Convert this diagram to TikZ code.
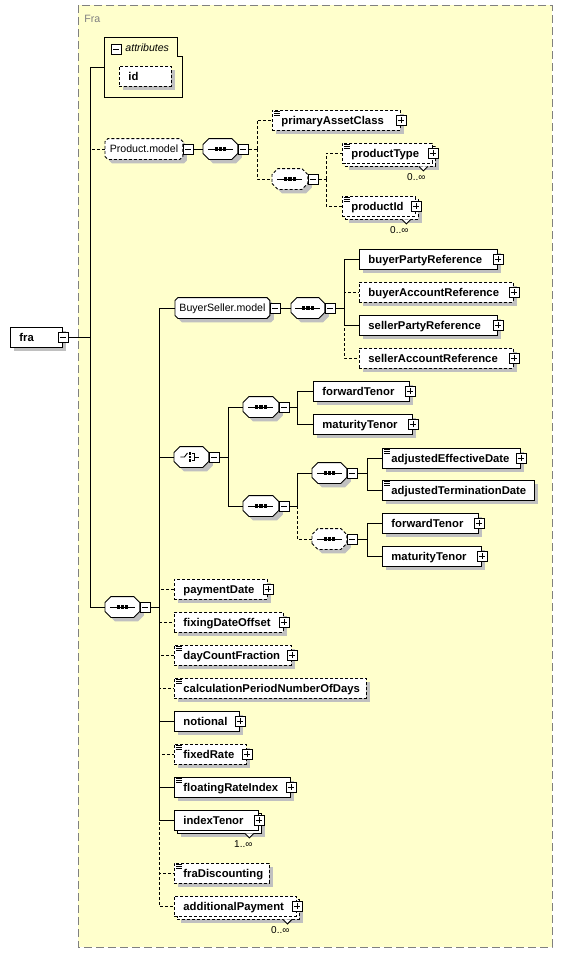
\documentclass[tikz,border=0pt]{standalone}
\usepackage{fontspec}
\setmainfont{Liberation Sans}
\usetikzlibrary{shadows,calc}

\definecolor{bgyellow}{HTML}{FFFFCC}
\definecolor{shadowgray}{HTML}{C0C0C0}
\definecolor{framegray}{HTML}{808080}

\newcommand{\elemfont}{\fontsize{11.3}{13}\selectfont\bfseries\hyphenpenalty=10000 }
\newcommand{\grpfont}{\fontsize{10.6}{13}\selectfont}
\newcommand{\occfont}{\fontsize{10}{12}\selectfont}

% box with cut corners for groups and compositors
\pgfkeys{/pgf/octo cut/.initial=6pt}
\makeatletter
\pgfdeclareshape{octo}{
  \inheritsavedanchors[from=rectangle]
  \inheritanchorborder[from=rectangle]
  \inheritanchor[from=rectangle]{center}
  \inheritanchor[from=rectangle]{north}
  \inheritanchor[from=rectangle]{south}
  \inheritanchor[from=rectangle]{east}
  \inheritanchor[from=rectangle]{west}
  \inheritanchor[from=rectangle]{north east}
  \inheritanchor[from=rectangle]{north west}
  \inheritanchor[from=rectangle]{south east}
  \inheritanchor[from=rectangle]{south west}
  \backgroundpath{%
    \pgfmathsetlength\pgf@xc{\pgfkeysvalueof{/pgf/octo cut}}%
    \southwest \pgf@xa=\pgf@x \pgf@ya=\pgf@y
    \northeast \pgf@xb=\pgf@x \pgf@yb=\pgf@y
    \pgfpathmoveto{\pgfqpoint{\pgf@xa}{\dimexpr\pgf@ya+\pgf@xc\relax}}%
    \pgfpathlineto{\pgfqpoint{\dimexpr\pgf@xa+\pgf@xc\relax}{\pgf@ya}}%
    \pgfpathlineto{\pgfqpoint{\dimexpr\pgf@xb-\pgf@xc\relax}{\pgf@ya}}%
    \pgfpathlineto{\pgfqpoint{\pgf@xb}{\dimexpr\pgf@ya+\pgf@xc\relax}}%
    \pgfpathlineto{\pgfqpoint{\pgf@xb}{\dimexpr\pgf@yb-\pgf@xc\relax}}%
    \pgfpathlineto{\pgfqpoint{\dimexpr\pgf@xb-\pgf@xc\relax}{\pgf@yb}}%
    \pgfpathlineto{\pgfqpoint{\dimexpr\pgf@xa+\pgf@xc\relax}{\pgf@yb}}%
    \pgfpathlineto{\pgfqpoint{\pgf@xa}{\dimexpr\pgf@yb-\pgf@xc\relax}}%
    \pgfpathclose
  }
}
\makeatother

\tikzset{
  opt/.style={dash pattern=on 3pt off 2pt},
  sh/.style={drop shadow={shadow xshift=4pt, shadow yshift=-4pt, fill=shadowgray, opacity=1}},
  elem/.style={draw, fill=white, anchor=west, minimum height=20pt, inner xsep=9pt, inner ysep=0pt,
    align=left, text height=10.4pt, text depth=1.8pt, font=\elemfont},
  smp/.style={path picture={
    \path (path picture bounding box.north west) coordinate (pc);
    \draw[solid, black, line width=0.5pt] ($(pc)+(2,1.5)$) -- +(5.5,0) ($(pc)+(2,3.5)$) -- +(5.5,0)
      ($(pc)+(2,5.5)$) -- +(5.5,0);}},
  minusbox/.style={draw, solid, fill=white, minimum size=10pt, inner sep=0pt, line width=0.8pt,
    general shadow={shadow xshift=1pt, shadow yshift=-1pt, fill=black},
    path picture={\draw[line width=0.8pt] ([xshift=2pt]path picture bounding box.west)
      -- ([xshift=-2pt]path picture bounding box.east);}},
  plusbox/.style={draw, solid, fill=white, minimum size=10pt, inner sep=0pt, line width=0.8pt,
    general shadow={shadow xshift=1pt, shadow yshift=-1pt, fill=black},
    path picture={\draw[line width=0.8pt] ([xshift=2pt]path picture bounding box.west)
      -- ([xshift=-2pt]path picture bounding box.east)
      ([yshift=2pt]path picture bounding box.south) -- ([yshift=-2pt]path picture bounding box.north);}},
  comp/.style={octo, octo cut=6pt, draw, fill=white, anchor=west,
    minimum width=34pt, minimum height=20pt, inner sep=0pt, sh},
  grp/.style={octo, octo cut=3pt, draw, fill=white, anchor=west, minimum height=20pt,
    inner xsep=4pt, inner ysep=0pt, text height=9.6pt, text depth=2pt, font=\grpfont, sh},
  seqicon/.style={path picture={
    \path (path picture bounding box.center) coordinate (pc);
    \draw[solid, black] ($(pc)+(-12.5,0)$) -- ($(pc)+(12.5,0)$);
    \foreach \d in {-4.2,0,4.2}
      \fill[black] ($(pc)+(\d,0)$) +(-1.6,-1.6) rectangle +(1.6,1.6);}},
  choiceicon/.style={path picture={
    \path (path picture bounding box.center) coordinate (pc);
    \draw[solid, black, line width=0.9pt] ($(pc)+(-11,0)$) -- ($(pc)+(-7,0)$) -- ($(pc)+(-4,-4)$);
    \foreach \d in {-3.6,0,3.6}
      \fill[black] ($(pc)+(-1.5,\d)$) +(-1.2,-1.2) rectangle +(1.2,1.2);
    \draw[solid, black, line width=0.9pt] ($(pc)+(0.5,-3.6)$) -- ($(pc)+(3,-3.6)$) -- ($(pc)+(3,3.6)$)
      -- ($(pc)+(0.5,3.6)$) ($(pc)+(3,0)$) -- ($(pc)+(8,0)$);}},
  occ/.style={anchor=east, inner sep=0pt, font=\occfont},
}

\begin{document}
\begin{tikzpicture}[x=1pt, y=-1pt, line width=0.9pt]
  \useasboundingbox (0,0) rectangle (563,954);
  % complex type frame
  \draw[framegray, fill=bgyellow, dash pattern=on 8pt off 4pt] (78,5) rectangle (552,947);
  \node[framegray, anchor=west, inner sep=0pt, font=\grpfont] (fraT) at (84,19) {Fra};

  % root
  \node[elem, sh, text width=34pt] (fra) at (10,337) {fra};
  \node[minusbox] (fram) at (fra.east) {};
  \coordinate (trunk) at (90,337);

  % attributes
  \node[minimum width=78pt, minimum height=59pt, inner sep=0pt] (attr) at (144,67.5) {};
  \draw (attr.north west) -- ++(73,0) -- ++(0,19) -- ++(5,0) |- (attr.south west) -- cycle;
  \node[minusbox] (attrm) at (116,49) {};
  \node[anchor=west, inner sep=0pt, font=\grpfont\itshape] (attrT) at (125,48) {attributes};
  \node[elem, opt, sh, text width=34pt] (id) at (119,76) {id};

  % Product.model
  \node[grp, opt, minimum width=77pt] (pm) at (105,149) {Product.model};
  \node[minusbox, anchor=west] (pmm) at (pm.east) {};
  \node[comp, seqicon] (s1) at (203,149) {};
  \node[minusbox, anchor=west] (s1m) at (s1.east) {};
  \coordinate (b1) at (257,149);
  \node[elem, opt, sh, smp, text width=110pt] (pac) at (272,120) {primaryAssetClass};
  \node[plusbox] (pacp) at (pac.east) {};
  \node[comp, opt, seqicon, minimum width=35pt] (s2) at (272,179) {};
  \node[minusbox, anchor=west] (s2m) at (s2.east) {};
  \coordinate (b2) at (326,179);
  \node[elem, opt, sh, text width=72pt] (ptb) at (345,156) {};
  \node[elem, opt, smp, text width=72pt] (pt) at (342,153) {productType};
  \node[plusbox] (ptp) at (pt.east) {};
  \draw[fill=white] ($(pt.south east)+(-14,3)$) -- ++(4.5,4.5) -- ++(4.5,-4.5);
  \node[occ] (pto) at ($(pt.south east)+(-7,14)$) {0..∞};
  \node[elem, opt, sh, text width=55pt] (pidb) at (345,209) {};
  \node[elem, opt, smp, text width=55pt] (pid) at (342,206) {productId};
  \node[plusbox] (pidp) at (pid.east) {};
  \draw[fill=white] ($(pid.south east)+(-14,3)$) -- ++(4.5,4.5) -- ++(4.5,-4.5);
  \node[occ] (pido) at ($(pid.south east)+(-7,14)$) {0..∞};

  % main sequence
  \node[comp, seqicon] (s0) at (105,607) {};
  \node[minusbox, anchor=west] (s0m) at (s0.east) {};
  \coordinate (b0) at (159,607);

  % BuyerSeller.model
  \node[grp, minimum width=94pt] (bsm) at (175,308) {BuyerSeller.model};
  \node[minusbox, anchor=west] (bsmm) at (bsm.east) {};
  \node[comp, seqicon, minimum width=33pt] (s3) at (291,308) {};
  \node[minusbox, anchor=west] (s3m) at (s3.east) {};
  \coordinate (b3) at (344,308);
  \node[elem, sh, text width=120pt] (bpr) at (359,259) {buyerPartyReference};
  \node[plusbox] (bprp) at (bpr.east) {};
  \node[elem, opt, sh, text width=136pt] (bar) at (359,292) {buyerAccountReference};
  \node[plusbox] (barp) at (bar.east) {};
  \node[elem, sh, text width=120pt] (spr) at (359,325) {sellerPartyReference};
  \node[plusbox] (sprp) at (spr.east) {};
  \node[elem, opt, sh, text width=136pt] (sar) at (359,358) {sellerAccountReference};
  \node[plusbox] (sarp) at (sar.east) {};

  % choice
  \node[comp, choiceicon] (ch) at (174,457) {};
  \node[minusbox, anchor=west] (chm) at (ch.east) {};
  \coordinate (b4) at (228,457);
  \node[comp, seqicon, minimum width=35pt] (s4) at (243,407) {};
  \node[minusbox, anchor=west] (s4m) at (s4.east) {};
  \coordinate (b5) at (297,407);
  \node[elem, sh, text width=78pt] (ft1) at (313,391) {forwardTenor};
  \node[plusbox] (ft1p) at (ft1.east) {};
  \node[elem, sh, text width=81pt] (mt1) at (313,424) {maturityTenor};
  \node[plusbox] (mt1p) at (mt1.east) {};
  \node[comp, seqicon, minimum width=35pt] (s5) at (243,506) {};
  \node[minusbox, anchor=west] (s5m) at (s5.east) {};
  \coordinate (b6) at (297,506);
  \node[comp, seqicon] (s6) at (312,473) {};
  \node[minusbox, anchor=west] (s6m) at (s6.east) {};
  \coordinate (b7) at (367,473);
  \node[elem, sh, smp, text width=120pt] (aed) at (382,458) {adjustedEffectiveDate};
  \node[plusbox] (aedp) at (aed.east) {};
  \node[elem, sh, smp, text width=134pt] (atd) at (382,490) {adjustedTerminationDate};
  \node[comp, opt, seqicon] (s7) at (312,539) {};
  \node[minusbox, anchor=west] (s7m) at (s7.east) {};
  \coordinate (b8) at (367,539);
  \node[elem, sh, text width=78pt] (ft2) at (382,523) {forwardTenor};
  \node[plusbox] (ft2p) at (ft2.east) {};
  \node[elem, sh, text width=81pt] (mt2) at (382,556) {maturityTenor};
  \node[plusbox] (mt2p) at (mt2.east) {};

  % remaining children of the main sequence
  \node[elem, opt, sh, text width=75pt] (pd) at (174,589) {paymentDate};
  \node[plusbox] (pdp) at (pd.east) {};
  \node[elem, opt, sh, text width=91pt] (fdo) at (174,622) {fixingDateOffset};
  \node[plusbox] (fdop) at (fdo.east) {};
  \node[elem, opt, sh, smp, text width=99pt] (dcf) at (174,655) {dayCountFraction};
  \node[plusbox] (dcfp) at (dcf.east) {};
  \node[elem, opt, sh, smp, text width=174pt] (cpn) at (174,688) {calculationPeriodNumberOfDays};
  \node[elem, sh, text width=47pt] (ntl) at (174,721) {notional};
  \node[plusbox] (ntlp) at (ntl.east) {};
  \node[elem, opt, sh, smp, text width=54pt] (fxr) at (174,754) {fixedRate};
  \node[plusbox] (fxrp) at (fxr.east) {};
  \node[elem, sh, smp, text width=98pt] (fri) at (174,787) {floatingRateIndex};
  \node[plusbox] (frip) at (fri.east) {};
  \node[elem, sh, text width=66pt] (itnb) at (177,823) {};
  \node[elem, text width=66pt] (itn) at (174,820) {indexTenor};
  \node[plusbox] (itnp) at (itn.east) {};
  \draw[fill=white] ($(itn.south east)+(-14,3)$) -- ++(4.5,4.5) -- ++(4.5,-4.5);
  \node[occ] (itno) at ($(itn.south east)+(-6,14)$) {1..∞};
  \node[elem, opt, sh, smp, text width=77pt] (frd) at (174,873) {fraDiscounting};
  \node[elem, opt, sh, text width=104pt] (adpb) at (177,909) {};
  \node[elem, opt, text width=104pt] (adp) at (174,906) {additionalPayment};
  \node[plusbox] (adpp) at (adp.east) {};
  \draw[fill=white] ($(adp.south east)+(-14,3)$) -- ++(4.5,4.5) -- ++(4.5,-4.5);
  \node[occ] (adpo) at ($(adp.south east)+(-7,14)$) {0..∞};

  % connectors
  \draw (fram.east) -- (trunk);
  \draw (trunk) |- (attr.west);
  \draw[opt] (trunk) |- (pm.west);
  \draw (trunk) |- (s0.west);
  \draw (pmm.east) -- (s1.west);
  \draw[opt] (s1m.east) -- (b1);
  \draw[opt] (b1) |- (pac.west);
  \draw[opt] (b1) |- (s2.west);
  \draw[opt] (s2m.east) -- (b2);
  \draw[opt] (b2) |- (pt.west);
  \draw[opt] (b2) |- (pid.west);
  \draw (s0m.east) -- (b0);
  \draw (b0) |- (bsm.west);
  \draw (b0) |- (ch.west);
  \draw[opt] (b0) |- (pd.west);
  \draw[opt] (b0) |- (fdo.west);
  \draw[opt] (b0) |- (dcf.west);
  \draw[opt] (b0) |- (cpn.west);
  \draw (b0) |- (ntl.west);
  \draw[opt] (b0) |- (fxr.west);
  \draw (b0) |- (fri.west);
  \draw (b0) |- (itn.west);
  \draw[opt] (b0) |- (frd.west);
  \draw[opt] (b0) |- (adp.west);
  \draw (bsmm.east) -- (s3.west);
  \draw (s3m.east) -- (b3);
  \draw (b3) |- (bpr.west);
  \draw[opt] (b3) |- (bar.west);
  \draw (b3) |- (spr.west);
  \draw[opt] (b3) |- (sar.west);
  \draw (chm.east) -- (b4);
  \draw (b4) |- (s4.west);
  \draw (b4) |- (s5.west);
  \draw (s4m.east) -- (b5);
  \draw (b5) |- (ft1.west);
  \draw (b5) |- (mt1.west);
  \draw (s5m.east) -- (b6);
  \draw (b6) |- (s6.west);
  \draw[opt] (b6) |- (s7.west);
  \draw (s6m.east) -- (b7);
  \draw (b7) |- (aed.west);
  \draw (b7) |- (atd.west);
  \draw (s7m.east) -- (b8);
  \draw (b8) |- (ft2.west);
  \draw (b8) |- (mt2.west);
\end{tikzpicture}
\end{document}
